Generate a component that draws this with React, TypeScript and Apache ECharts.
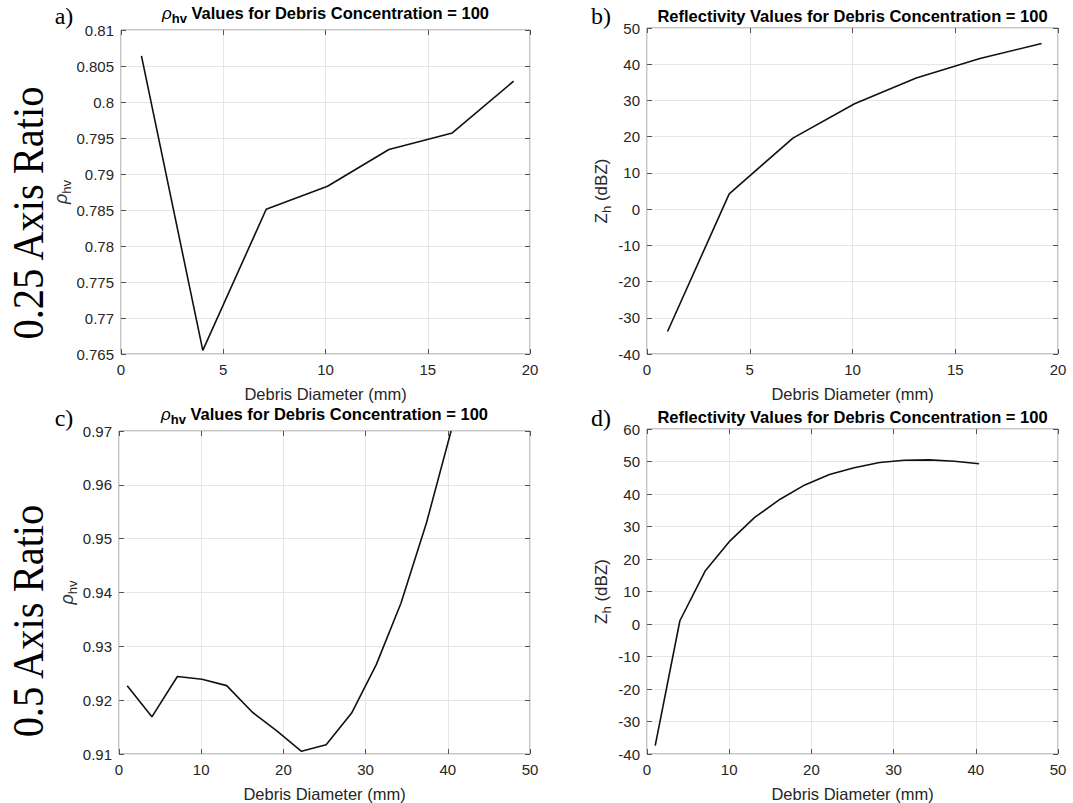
import React, { useEffect, useRef } from "react";
import * as echarts from "echarts";

// ---- Data ----
const diameterSmall = [1, 4, 7.1, 10.1, 13.1, 16.2, 19.2];
const rhoHvQuarter = [0.8064, 0.7655, 0.7851, 0.7883, 0.7934, 0.7957, 0.8029];
const zhQuarter = [-33.8, 4.2, 19.6, 29.1, 36.2, 41.6, 45.7];

const diameterLarge = [1, 4, 7.1, 10.1, 13.1, 16.2, 19.2, 22.2, 25.2, 28.3, 31.3, 34.3, 37.4, 40.4];
const rhoHvHalf = [0.9227, 0.9169, 0.9244, 0.9239, 0.9227, 0.9178, 0.9143, 0.9105, 0.9117, 0.9176, 0.9266, 0.938, 0.9529, 0.97];
const zhHalf = [-37.4, 1.0, 16.4, 25.6, 32.8, 38.4, 42.8, 46.0, 48.1, 49.7, 50.4, 50.5, 50.1, 49.3];

const panelLetters = ["a)", "b)", "c)", "d)"];
const rowLabels = ["0.25 Axis Ratio", "0.5 Axis Ratio"];
const titleRho = "Values for Debris Concentration = 100";
const titleRefl = "Reflectivity Values for Debris Concentration = 100";
const xAxisName = "Debris Diameter (mm)";

const FONT = '"Liberation Sans", Arial, Helvetica, sans-serif';
const SERIF = '"Liberation Serif", "Times New Roman", serif';

type Panel = {
  grid: { left: number; top: number; width: number; height: number };
  xMax: number;
  xInt: number;
  yMin: number;
  yMax: number;
  yInt: number;
  yName: string;
  yNameGap: number;
  xs: number[];
  ys: number[];
  decimals: number;
};

const panels: Panel[] = [
  { grid: { left: 121, top: 30, width: 409, height: 324 }, xMax: 20, xInt: 5, yMin: 0.765, yMax: 0.81, yInt: 0.005, yName: "{r|ρ}{s|hv}", yNameGap: 44, xs: diameterSmall, ys: rhoHvQuarter, decimals: 3 },
  { grid: { left: 647, top: 28, width: 411, height: 326 }, xMax: 20, xInt: 5, yMin: -40, yMax: 50, yInt: 10, yName: "{z|Z}{s|h}{z| (dBZ)}", yNameGap: 34, xs: diameterSmall, ys: zhQuarter, decimals: 0 },
  { grid: { left: 119, top: 431, width: 411, height: 324 }, xMax: 50, xInt: 10, yMin: 0.91, yMax: 0.97, yInt: 0.01, yName: "{r|ρ}{s|hv}", yNameGap: 39, xs: diameterLarge, ys: rhoHvHalf, decimals: 2 },
  { grid: { left: 647, top: 429, width: 411, height: 326 }, xMax: 50, xInt: 10, yMin: -40, yMax: 60, yInt: 10, yName: "{z|Z}{s|h}{z| (dBZ)}", yNameGap: 34, xs: diameterLarge, ys: zhHalf, decimals: 0 },
];

const nameRich = {
  r: { fontSize: 18, fontStyle: "italic", fontFamily: FONT, color: "#333" },
  z: { fontSize: 17, fontFamily: FONT, color: "#262626" },
  s: { fontSize: 13, fontFamily: FONT, color: "#262626", padding: [11, 0, 0, 0] },
};

const titleRich = {
  r: { fontSize: 17, fontStyle: "italic", fontFamily: FONT, fill: "#000" },
  s: { fontSize: 13, fontWeight: "bold", fontFamily: FONT, fill: "#000", padding: [11, 0, 0, 0] },
  t: { fontSize: 16.5, fontWeight: "bold", fontFamily: FONT, fill: "#000" },
};

function buildOption() {
  const grids: any[] = [];
  const xAxes: any[] = [];
  const yAxes: any[] = [];
  const series: any[] = [];
  const graphics: any[] = [];

  panels.forEach((p, i) => {
    grids.push({
      ...p.grid,
      show: true,
      borderColor: "#8a8a8a",
      borderWidth: 1,
      backgroundColor: "#fff",
    });
    const tick = { show: true, inside: true, length: 5, lineStyle: { color: "#555", width: 1 } };
    const common = { type: "value", gridIndex: i, axisLine: { show: false, onZero: false } };
    xAxes.push({
      ...common,
      min: 0,
      max: p.xMax,
      interval: p.xInt,
      position: "bottom",
      axisTick: tick,
      axisLabel: { color: "#262626", fontSize: 15, fontFamily: FONT, margin: 8 },
      splitLine: { show: true, lineStyle: { color: "#e6e6e6", width: 1 } },
      name: xAxisName,
      nameLocation: "middle",
      nameGap: 31,
      nameTextStyle: { color: "#262626", fontSize: 16.5, fontFamily: FONT },
    });
    xAxes.push({
      ...common,
      min: 0,
      max: p.xMax,
      interval: p.xInt,
      position: "top",
      axisTick: tick,
      axisLabel: { show: false },
      splitLine: { show: false },
    });
    yAxes.push({
      ...common,
      min: p.yMin,
      max: p.yMax,
      interval: p.yInt,
      position: "left",
      axisTick: tick,
      axisLabel: {
        color: "#262626",
        fontSize: 15,
        fontFamily: FONT,
        margin: 7,
        formatter: (v: number) => String(parseFloat(v.toFixed(p.decimals + 1))),
      },
      splitLine: { show: true, lineStyle: { color: "#e6e6e6", width: 1 } },
      name: p.yName,
      nameLocation: "middle",
      nameRotate: 90,
      nameGap: p.yNameGap,
      nameTextStyle: { rich: nameRich },
    });
    yAxes.push({
      ...common,
      min: p.yMin,
      max: p.yMax,
      interval: p.yInt,
      position: "right",
      axisTick: tick,
      axisLabel: { show: false },
      splitLine: { show: false },
    });
    series.push({
      type: "line",
      xAxisIndex: 2 * i,
      yAxisIndex: 2 * i,
      data: p.xs.map((x, k) => [x, p.ys[k]]),
      showSymbol: false,
      symbol: "none",
      clip: true,
      lineStyle: { color: "#111", width: 1.6 },
    });

    const cx = p.grid.left + p.grid.width / 2;
    const isRho = i % 2 === 0;
    graphics.push({
      type: "text",
      x: cx,
      y: isRho ? p.grid.top - 17 : p.grid.top - 12,
      style: {
        text: isRho ? `{r|ρ}{s|hv}{t| ${titleRho}}` : `{t|${titleRefl}}`,
        rich: titleRich,
        align: "center",
        verticalAlign: "middle",
        textAlign: "center",
        textVerticalAlign: "middle",
      },
    });
    graphics.push({
      type: "text",
      x: isRho ? 64 : 601,
      y: i < 2 ? 16 : 418,
      style: {
        text: panelLetters[i],
        font: `24px ${SERIF}`,
        fill: "#000",
        align: "center",
        verticalAlign: "middle",
        textAlign: "center",
        textVerticalAlign: "middle",
      },
    });
  });

  rowLabels.forEach((label, r) => {
    graphics.push({
      type: "text",
      x: 28,
      y: r === 0 ? 213 : 621,
      rotation: Math.PI / 2,
      scaleX: 0.92,
      style: {
        text: label,
        font: `44px ${SERIF}`,
        fill: "#000",
        align: "center",
        verticalAlign: "middle",
        textAlign: "center",
        textVerticalAlign: "middle",
      },
    });
  });

  return {
    animation: false,
    backgroundColor: "#fff",
    grid: grids,
    xAxis: xAxes,
    yAxis: yAxes,
    series,
    graphic: graphics,
  };
}

export default function App() {
  const ref = useRef<HTMLDivElement>(null);
  useEffect(() => {
    document.body.style.margin = "0";
    if (!ref.current) return;
    const chart = echarts.init(ref.current, undefined, { renderer: "svg" });
    chart.setOption(buildOption() as any);
    return () => chart.dispose();
  }, []);
  return <div ref={ref} style={{ width: 1073, height: 803 }} />;
}
